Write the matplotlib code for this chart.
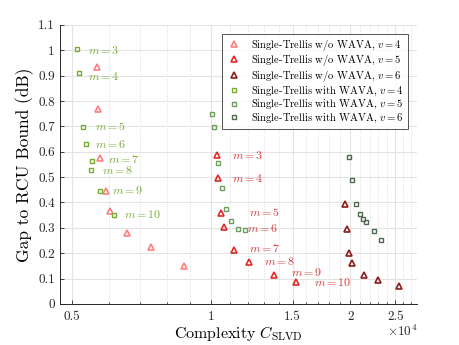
import matplotlib
matplotlib.use("Agg")
import matplotlib.pyplot as plt
from matplotlib.ticker import FixedLocator, FixedFormatter, NullFormatter

plt.rcParams['font.family'] = 'serif'
plt.rcParams['font.serif'] = ['cmr10', 'DejaVu Serif']
plt.rcParams['mathtext.fontset'] = 'cm'
plt.rcParams['axes.formatter.use_mathtext'] = True

# data (complexity, gap in dB)
m_vals = [3, 4, 5, 6, 7, 8, 9, 10]

x_nowava_v4 = [5660, 5690, 5750, 5920, 6040, 6580, 7400, 8740]
y_nowava_v4 = [0.932, 0.768, 0.574, 0.447, 0.367, 0.279, 0.224, 0.151]

x_nowava_v5 = [10290, 10340, 10490, 10630, 11180, 12090, 13690, 15250]
y_nowava_v5 = [0.588, 0.496, 0.358, 0.305, 0.213, 0.167, 0.114, 0.085]

x_nowava_v6 = [19500, 19670, 19900, 20200, 21380, 23000, 25440]
y_nowava_v6 = [0.393, 0.295, 0.200, 0.163, 0.114, 0.095, 0.071]

x_wava_v4 = [5130, 5180, 5280, 5360, 5530, 5500, 5750, 6150]
y_wava_v4 = [1.004, 0.910, 0.698, 0.632, 0.565, 0.528, 0.446, 0.351]

x_wava_v5 = [10030, 10150, 10320, 10560, 10780, 11030, 11440, 11810]
y_wava_v5 = [0.749, 0.697, 0.557, 0.455, 0.373, 0.327, 0.296, 0.290]

x_wava_v6 = [19900, 20160, 20570, 20940, 21260, 21650, 22450, 23330]
y_wava_v6 = [0.578, 0.488, 0.393, 0.356, 0.336, 0.321, 0.289, 0.251]

# m labels: (x, y) of text start
lab_green_x = [5410, 5410, 5610, 5610, 5980, 5800, 6100, 6480]
lab_green_y = [1.0, 0.90, 0.70, 0.631, 0.571, 0.526, 0.45, 0.354]
lab_red_x = [11090, 11090, 12090, 11960, 12090, 13020, 14880, 16700]
lab_red_y = [0.588, 0.496, 0.363, 0.301, 0.221, 0.171, 0.124, 0.088]

c_pink = '#FF7F7F'
c_red = '#E02A2A'
c_dred = '#8E1B1B'
c_g4 = '#77AC30'
c_g5 = '#6E9E5E'
c_g6 = '#4F6A50'
c_glab = '#77AC30'
c_rlab = '#D63A3A'

fig = plt.figure(figsize=(4.6, 3.45), dpi=100)
ax = fig.add_axes([0.130, 0.119, 0.777, 0.809])

tri = dict(marker='^', linestyle='none', markersize=5.0, markerfacecolor='none', markeredgewidth=1.2)
sq = dict(marker='s', linestyle='none', markersize=3.2, markerfacecolor='none', markeredgewidth=1.0)

ax.plot(x_nowava_v4, y_nowava_v4, color=c_pink, label=r'Single-Trellis w/o WAVA, $v=4$', **tri)
ax.plot(x_nowava_v5, y_nowava_v5, color=c_red, label=r'Single-Trellis w/o WAVA, $v=5$', **tri)
ax.plot(x_nowava_v6, y_nowava_v6, color=c_dred, label=r'Single-Trellis w/o WAVA, $v=6$', **tri)
ax.plot(x_wava_v4, y_wava_v4, color=c_g4, label=r'Single-Trellis with WAVA, $v=4$', **sq)
ax.plot(x_wava_v5, y_wava_v5, color=c_g5, label=r'Single-Trellis with WAVA, $v=5$', **sq)
ax.plot(x_wava_v6, y_wava_v6, color=c_g6, label=r'Single-Trellis with WAVA, $v=6$', **sq)

for i in range(len(m_vals)):
    ax.text(lab_green_x[i], lab_green_y[i], r'$m=%d$' % m_vals[i], color=c_glab,
            fontsize=8.6, va='center', ha='left')
    ax.text(lab_red_x[i], lab_red_y[i], r'$m=%d$' % m_vals[i], color=c_rlab,
            fontsize=8.6, va='center', ha='left')

ax.set_xscale('log')
ax.set_xlim(4700, 27900)
ax.set_ylim(0, 1.1)

major_x = [5000, 10000, 15000, 20000, 25000]
ax.xaxis.set_major_locator(FixedLocator(major_x))
ax.xaxis.set_major_formatter(FixedFormatter(['0.5', '1', '1.5', '2', '2.5']))
minor_x = [v * 1000 for v in range(5, 28) if v * 1000 not in major_x]
ax.xaxis.set_minor_locator(FixedLocator(minor_x))
ax.xaxis.set_minor_formatter(NullFormatter())

yt = [i / 10 for i in range(12)]
ax.yaxis.set_major_locator(FixedLocator(yt))
ax.yaxis.set_major_formatter(FixedFormatter(['0', '0.1', '0.2', '0.3', '0.4', '0.5', '0.6',
                                             '0.7', '0.8', '0.9', '1', '1.1']))

ax.grid(True, which='major', color='#e3e3e3', linewidth=0.8, linestyle='-')
ax.grid(True, which='minor', axis='x', color='#cfcfcf', linewidth=0.6, linestyle=(0, (1, 2)))
ax.set_axisbelow(True)

for s in ['top', 'right']:
    ax.spines[s].set_visible(False)
for s in ['left', 'bottom']:
    ax.spines[s].set_color('#262626')
    ax.spines[s].set_linewidth(0.7)
ax.tick_params(which='both', direction='in', colors='#262626', labelsize=9.5, width=0.6)
ax.tick_params(which='major', length=3)
ax.tick_params(which='minor', length=1.8)
ax.tick_params(axis='x', which='major', pad=5)
ax.tick_params(axis='y', which='minor', left=False)

ax.set_xlabel(r'Complexity $C_{\mathrm{SLVD}}$', fontsize=11.5, labelpad=1)
ax.set_ylabel('Gap to RCU Bound (dB)', fontsize=12.5, labelpad=3)
ax.text(1.0, -0.097, r'$\times 10^4$', transform=ax.transAxes, fontsize=9.5,
        ha='right', va='center', color='#262626')

leg = ax.legend(loc='upper right', bbox_to_anchor=(0.98, 0.975), fontsize=7.6,
                frameon=True, fancybox=False, borderpad=0.35, labelspacing=0.05,
                handletextpad=0.8, handlelength=1.6, borderaxespad=0.2)
leg.get_frame().set_edgecolor('#262626')
leg.get_frame().set_linewidth(0.7)

fig.savefig('out.png', dpi=100)
